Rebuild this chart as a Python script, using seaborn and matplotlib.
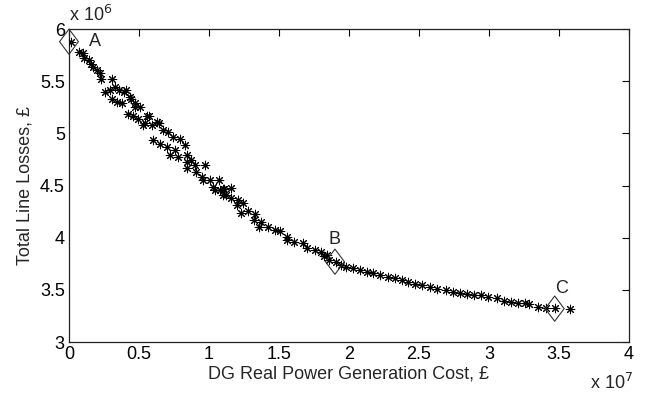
import numpy as np
import pandas as pd
import seaborn as sns
import matplotlib.pyplot as plt
from matplotlib.path import Path

# Pareto front (cost in x10^7 GBP, losses in x10^6 GBP)
cost = [0.014, 0.07, 0.10, 0.11, 0.145, 0.16, 0.17, 0.20, 0.22, 0.23, 0.305,
        0.26, 0.29, 0.33, 0.36, 0.39, 0.41, 0.31, 0.345, 0.38, 0.44, 0.47,
        0.51, 0.42, 0.46, 0.495, 0.56, 0.53, 0.59, 0.63, 0.435, 0.47, 0.57,
        0.54, 0.64, 0.67, 0.71, 0.745, 0.79, 0.60, 0.65, 0.70, 0.83, 0.76,
        0.72, 0.78, 0.84, 0.84, 0.875, 0.90, 0.97, 0.84, 0.91, 0.95, 1.01,
        1.07, 1.03, 1.08, 1.11, 1.125, 0.96, 1.04, 1.10, 1.16, 1.10, 1.16,
        1.21, 1.20, 1.245, 1.23, 1.28, 1.33, 1.32, 1.375, 1.36, 1.42, 1.47,
        1.51, 1.56, 1.555, 1.61, 1.67, 1.70, 1.76, 1.80, 1.84, 1.82, 1.86,
        1.91, 1.94, 1.98, 2.03, 2.08, 2.13, 2.17, 2.22, 2.28, 2.33, 2.38,
        2.42, 2.47, 2.52, 2.58, 2.63, 2.69, 2.745, 2.79, 2.84, 2.89, 2.94,
        2.995, 3.055, 3.11, 3.16, 3.21, 3.26, 3.29, 3.35, 3.41, 3.47, 3.58]
losses = [5.875, 5.78, 5.77, 5.72, 5.70, 5.67, 5.64, 5.61, 5.58, 5.52, 5.52,
          5.40, 5.415, 5.45, 5.42, 5.40, 5.415, 5.335, 5.30, 5.29, 5.335, 5.25,
          5.25, 5.19, 5.17, 5.135, 5.17, 5.08, 5.08, 5.11, 5.35, 5.29, 5.17,
          5.10, 5.10, 5.03, 5.015, 4.97, 4.95, 4.935, 4.90, 4.87, 4.89, 4.84,
          4.79, 4.775, 4.79, 4.73, 4.745, 4.70, 4.70, 4.665, 4.63, 4.585, 4.55,
          4.55, 4.49, 4.46, 4.47, 4.41, 4.55, 4.46, 4.47, 4.48, 4.41, 4.38,
          4.36, 4.31, 4.33, 4.24, 4.26, 4.23, 4.17, 4.155, 4.105, 4.105, 4.07,
          4.06, 4.01, 3.98, 3.96, 3.945, 3.90, 3.88, 3.865, 3.83, 3.82, 3.79,
          3.77, 3.74, 3.72, 3.71, 3.69, 3.67, 3.66, 3.64, 3.625, 3.61, 3.59,
          3.58, 3.56, 3.545, 3.53, 3.51, 3.50, 3.48, 3.47, 3.465, 3.45, 3.45,
          3.43, 3.42, 3.395, 3.385, 3.375, 3.37, 3.365, 3.34, 3.33, 3.33, 3.32]

# highlighted solutions A, B, C
pick_names = ['A', 'B', 'C']
pick_cost = [0.0, 1.90, 3.47]
pick_losses = [5.88, 3.77, 3.32]

df = pd.DataFrame({'cost': cost, 'losses': losses})

sns.set_style('white')
plt.rcParams['font.family'] = ['Liberation Sans', 'DejaVu Sans']

fig = plt.figure(figsize=(6.51, 3.98), dpi=100)
ax = fig.add_axes([0.106, 0.1407, 0.86, 0.786])

sns.scatterplot(data=df, x='cost', y='losses', marker=(8, 2, 0), color='black',
                s=38, linewidth=0.75, ax=ax, zorder=3)

diamond = Path([(0, 1), (0.75, 0), (0, -1), (-0.75, 0), (0, 1)],
               [Path.MOVETO, Path.LINETO, Path.LINETO, Path.LINETO, Path.CLOSEPOLY])
ax.scatter(pick_cost, pick_losses, marker=diamond, s=330, facecolors='none',
           edgecolors='#333333', linewidths=0.8, zorder=4, clip_on=False)
ax.text(pick_cost[0] + 0.14, pick_losses[0], pick_names[0], fontsize=13, va='center')
ax.text(pick_cost[1], pick_losses[1] + 0.17, pick_names[1], fontsize=13, ha='center')
ax.text(pick_cost[2] + 0.05, pick_losses[2] + 0.15, pick_names[2], fontsize=13, ha='center')

ax.set_xlim(0, 4)
ax.set_ylim(3, 6)
ax.set_xticks(np.arange(0, 4.01, 0.5))
ax.set_yticks(np.arange(3, 6.01, 0.5))
ax.set_xticklabels(['0', '0.5', '1', '1.5', '2', '2.5', '3', '3.5', '4'])
ax.set_yticklabels(['3', '3.5', '4', '4.5', '5', '5.5', '6'])
ax.tick_params(direction='in', length=5, width=0.8, top=True, right=True,
               labelsize=13, colors='black', pad=3)
for s in ax.spines.values():
    s.set_visible(True)
    s.set_color('#222222')
    s.set_linewidth(0.9)

ax.set_xlabel('DG Real Power Generation Cost, £', fontsize=13, labelpad=2)
ax.set_ylabel('Total Line Losses, £', fontsize=13, labelpad=5)

# MATLAB style exponent labels
ax.text(0.0, 1.012, r'x 10$^{6}$', transform=ax.transAxes, fontsize=13, va='bottom')
ax.text(0.93, -0.13, r'x 10$^{7}$', transform=ax.transAxes, fontsize=13, va='center')

plt.savefig('out.png', dpi=100)
